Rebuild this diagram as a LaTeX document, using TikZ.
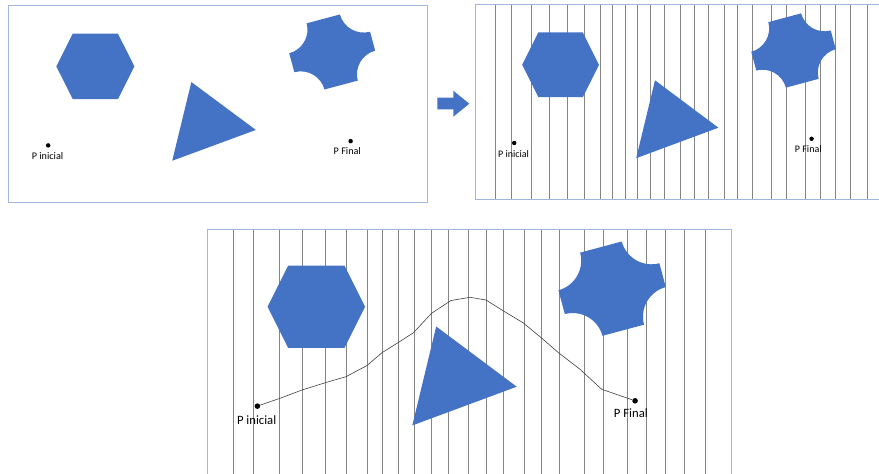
\documentclass[tikz,border=0pt]{standalone}
\usepackage{fontspec}
\setmainfont{Carlito}
\usetikzlibrary{positioning}
\definecolor{azulforma}{HTML}{4472C4}
\definecolor{bordepanel}{HTML}{A3B6DC}
\definecolor{lineagris}{HTML}{858585}

\tikzset{
  obstaculo/.style={fill=azulforma},
  panel/.style={draw=bordepanel, line width=0.9pt},
  celda/.style={draw=lineagris, line width=0.7pt},
  punto/.style={circle, fill=black, inner sep=0pt, minimum size=4.4pt},
  etiqueta/.style={font=\fontsize{10}{12}\selectfont, inner sep=0pt},
  ruta/.style={draw=black!75, line width=0.6pt}
}

% obstacles and the two points, in the coordinates of one panel
\newcommand{\escena}{%
  \fill[obstaculo] (47.2,60.8) -- (63.4,28.4) -- (107.8,28.4) -- (124,60.8)
    -- (107.8,93.2) -- (63.4,93.2) -- cycle;
  \fill[obstaculo] (180,76.3) -- (243.4,123.7) -- (161.2,154.2) -- cycle;
  \begin{scope}[shift={(318.5,46.5)}, y=1pt, rotate=15]
    \fill[obstaculo] (-16.95,33.9) -- (16.95,33.9)
      arc[start angle=180, end angle=270, radius=24.2pt]
      -- (41.15,-9.7) arc[start angle=90, end angle=180, radius=24.2pt]
      -- (-16.95,-33.9) arc[start angle=0, end angle=90, radius=24.2pt]
      -- (-41.15,9.7) arc[start angle=270, end angle=360, radius=24.2pt]
      -- cycle;
  \end{scope}
  \node[punto] (pini) at (39.2,139) {};
  \node[punto] (pfin) at (336.6,134.8) {};
  \node[etiqueta] (pini-txt) at (38.6,149.7) {P inicial};
  \node[etiqueta] (pfin-txt) at (333.3,144.7) {P Final};
}

% vertical cell lines
\newcommand{\celdas}{%
  \foreach \cx in {20, 36.4, 56.5, 74.5, 92.5, 109.4, 125.5, 137.4, 150.5,
      162.4, 175.8, 189.5, 205.5, 219.6, 233.2, 249.3, 262.5, 276.9, 296.7,
      311.5, 330.2, 345.8, 360.3, 375.6, 392}
    \draw[celda] (\cx,0) -- (\cx,195.3);
}

\begin{document}
\begin{tikzpicture}[x=1pt, y=-1pt]
  \useasboundingbox (0,0) rectangle (879,474);
  \clip (0,0) rectangle (879,474);

  % original map
  \draw[panel] (8.3,5) rectangle (427.7,202.3);
  \begin{scope}[shift={(8.3,5)}, xscale=1.017, yscale=1.01, transform shape, name prefix=a-]
    \escena
  \end{scope}

  % block arrow
  \fill[azulforma] (437.3,97.7) -- (453.3,97.7) -- (453.3,90.7) -- (469.3,103.7)
    -- (453.3,116.7) -- (453.3,109.3) -- (437.3,109.3) -- cycle;

  % decomposed map
  \begin{scope}[shift={(475,4)}, transform shape, name prefix=b-]
    \celdas
    \draw[panel] (0,0) rectangle (412.4,195.3);
    \escena
  \end{scope}

  % decomposed map with the path
  \begin{scope}[shift={(207.6,229.6)}, scale=1.27, transform shape, name prefix=c-]
    \celdas
    \draw[panel] (0,0) rectangle (412.4,195.3);
    \escena
  \end{scope}
  \draw[ruta] (c-pini) -- (280,398.3) -- (302,390) -- (326,382.5) -- (346,376.7)
    -- (367,365.5) -- (382,352.7) -- (397,343.3) -- (413.5,332.7) -- (431.5,313.3)
    -- (451,300.5) -- (470,297.3) -- (486,300) -- (503,310.7) -- (523,322.7)
    -- (540,336.7) -- (558.5,352.7) -- (580,369.3) -- (601.7,389.3) -- (c-pfin);
\end{tikzpicture}
\end{document}
